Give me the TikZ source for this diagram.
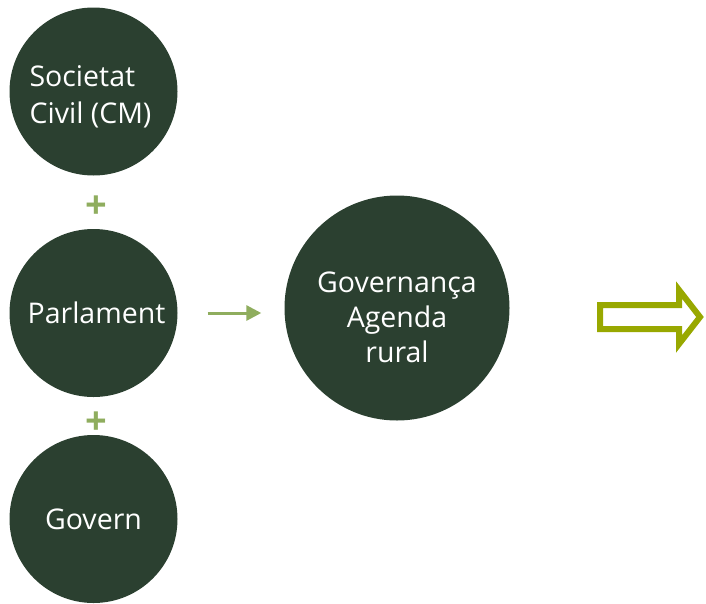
\documentclass[tikz,border=0pt]{standalone}
\usepackage{fontspec}
\setmainfont{Open Sans}
\usetikzlibrary{arrows.meta}

\definecolor{circleGreen}{HTML}{2B4030}
\definecolor{plusGreen}{HTML}{8FAD5E}
\definecolor{blockOlive}{HTML}{98A800}

\begin{document}
\begin{tikzpicture}[x = 1pt, y = -1pt, > = {Triangle[length = 15pt, width = 15pt]},
	actor/.style = {circle, fill = circleGreen, text = white, minimum size = 168pt, inner sep = 0pt,
		font = \fontsize{28.5}{37}\selectfont},
	plus/.style = {text = plusGreen, font = \fontsize{38}{38}\selectfont\bfseries, inner sep = 0pt}]

	% Definitions
	
	\def\colX{93.5}		% Horizontal position of the left column
	
	\useasboundingbox (0, 0) rectangle (706, 603);
	
	% Actors
	
	\node [actor, align = left] (societat) at (\colX, 91.5) {\rule{0pt}{31pt}Societat\\Civil (CM)\hspace*{6pt}};
	\node [actor] (parlament) at (\colX, 313) {\hspace{6pt}Parlament};
	\node [actor] (govern) at (\colX, 519) {Govern};
	
	% Plus signs between actors
	
	\node [plus] (plus1) at (96.5, 207) {+};
	\node [plus] (plus2) at (96.5, 423) {+};
	
	% Result
	
	\node [actor, minimum size = 225pt,
		label = {[text = white, font = \fontsize{28.5}{35}\selectfont, align = center, yshift = -9pt]center:Governança\\Agenda\\rural}]
		(governanca) at (397, 308) {};
	
	% Arrow to the result
	
	\draw [->, plusGreen, line width = 3pt, shorten < = 30pt, shorten > = 23pt] (parlament) -- (governanca.west |- parlament);
	
	% Block arrow
	
	\draw [blockOlive, line width = 6pt, fill = white, line join = miter]
		(600, 305) -- (679, 305) -- (679, 290) -- (700, 317) -- (679, 344) -- (679, 329) -- (600, 329) -- cycle;

\end{tikzpicture}
\end{document}
